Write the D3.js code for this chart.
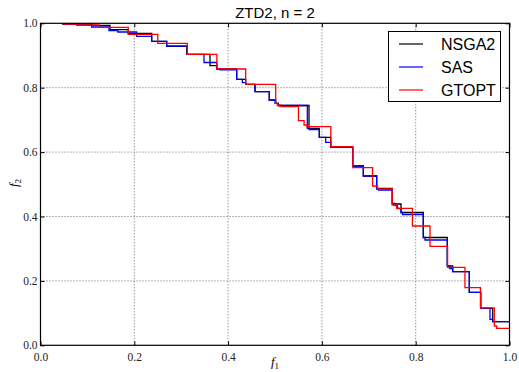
<!DOCTYPE html>
<html><head><meta charset="utf-8">
<script src="https://cdn.jsdelivr.net/npm/d3@7"></script>
<style>body{margin:0;background:#fff}svg{display:block}</style>
</head><body>
<script>
const title = "ZTD2, n = 2";
const xTicks = [0, 0.2, 0.4, 0.6, 0.8, 1.0];
const yTicks = [0, 0.2, 0.4, 0.6, 0.8, 1.0];
const seriesNames = ["NSGA2", "SAS", "GTOPT"];
const seriesColors = ["#000000", "#0000ff", "#ff0000"];

const nsga2X = [0.0458,0.1092,0.1482,0.1872,0.2371,0.2691,0.3117,0.3614,0.3757,0.4183,0.4375,0.4574,0.4878,0.5015,0.507,0.5725,0.5945,0.6188,0.6657,0.6883,0.7168,0.750,0.7687,0.8162,0.8674,0.8789,0.9143,0.9386,0.9642,1.0];
const nsga2Y = [0.9975,0.9938,0.9801,0.9683,0.9441,0.9286,0.9037,0.8683,0.8581,0.8261,0.8106,0.7876,0.7618,0.7516,0.7447,0.6739,0.646,0.6149,0.5568,0.5258,0.487,0.4388,0.4124,0.3348,0.2463,0.2286,0.1646,0.1149,0.0733,0.0733];

const sasX = [0.0544,0.077,0.109,0.146,0.165,0.205,0.237,0.269,0.313,0.3486,0.376,0.3827,0.4183,0.4303,0.4375,0.4574,0.4878,0.5,0.507,0.5689,0.5731,0.5945,0.6081,0.6188,0.6657,0.6883,0.7168,0.7207,0.750,0.7559,0.7612,0.7687,0.7719,0.8162,0.8198,0.8674,0.8721,0.8789,0.9143,0.9386,0.9584,0.9642,1.0];
const sasY = [0.998,0.9947,0.9885,0.977,0.973,0.9596,0.944,0.9295,0.9037,0.8783,0.8581,0.8553,0.8261,0.8155,0.8106,0.7876,0.7618,0.7516,0.7447,0.6733,0.6702,0.646,0.6304,0.6149,0.5568,0.5258,0.4854,0.4823,0.441,0.4342,0.4248,0.4124,0.4062,0.3348,0.327,0.2463,0.2385,0.2286,0.1646,0.1149,0.0807,0.0733,0.0733];

const gtoptX = [0.050,0.077,0.125,0.187,0.250,0.313,0.376,0.4375,0.5015,0.505,0.511,0.550,0.562,0.568,0.619,0.666,0.708,0.7186,0.750,0.7595,0.793,0.8305,0.868,0.905,0.938,0.9676,0.9727,1.0];
const gtoptY = [0.9975,0.9947,0.9876,0.9658,0.9379,0.9037,0.8581,0.8106,0.7516,0.7463,0.741,0.6975,0.6842,0.6789,0.6168,0.5516,0.4947,0.4854,0.4357,0.4255,0.3705,0.3075,0.2422,0.1789,0.1165,0.0599,0.0528,0.0528];

const W = 519, H = 372;
const m = {left: 40.5, right: 509.5, top: 23.3, bottom: 345.3};
const svg = d3.select("body").append("svg").attr("width", W).attr("height", H);
const x = d3.scaleLinear().domain([0, 1]).range([m.left, m.right]);
const y = d3.scaleLinear().domain([0, 1]).range([m.bottom, m.top]);

// grid
const grid = svg.append("g").attr("stroke", "#444").attr("stroke-width", 0.8).attr("stroke-dasharray", "1,2");
xTicks.slice(1, -1).forEach(t => grid.append("line").attr("x1", x(t)).attr("x2", x(t)).attr("y1", m.top).attr("y2", m.bottom));
yTicks.slice(1, -1).forEach(t => grid.append("line").attr("y1", y(t)).attr("y2", y(t)).attr("x1", m.left).attr("x2", m.right));

// series
svg.append("clipPath").attr("id", "clip").append("rect")
  .attr("x", m.left).attr("y", m.top - 1).attr("width", m.right - m.left).attr("height", m.bottom - m.top + 1);
const seriesData = [[nsga2X, nsga2Y], [sasX, sasY], [gtoptX, gtoptY]];
const line = d3.line().x(d => x(d[0])).y(d => y(d[1])).curve(d3.curveStepAfter);
seriesData.forEach(([xs, ys], i) => {
  svg.append("path").datum(xs.map((v, j) => [v, ys[j]]))
    .attr("d", line).attr("fill", "none").attr("stroke", seriesColors[i])
    .attr("stroke-width", 1.3).attr("clip-path", "url(#clip)");
});

// axes via d3 axes (inward ticks)
const tf = d3.format(".1f");
const axB = svg.append("g").attr("transform", `translate(0,${m.bottom})`)
  .call(d3.axisBottom(x).tickValues(xTicks).tickFormat(tf).tickSizeInner(-4).tickSizeOuter(0).tickPadding(8));
const axT = svg.append("g").attr("transform", `translate(0,${m.top})`)
  .call(d3.axisTop(x).tickValues(xTicks).tickFormat("").tickSizeInner(-4).tickSizeOuter(0));
const axL = svg.append("g").attr("transform", `translate(${m.left},0)`)
  .call(d3.axisLeft(y).tickValues(yTicks).tickFormat(tf).tickSizeInner(-4).tickSizeOuter(0).tickPadding(3));
const axR = svg.append("g").attr("transform", `translate(${m.right},0)`)
  .call(d3.axisRight(y).tickValues(yTicks).tickFormat("").tickSizeInner(-4).tickSizeOuter(0));
[axB, axT, axL, axR].forEach(a => {
  a.select(".domain").remove();
  a.selectAll("line").attr("stroke", "#000");
  a.selectAll("text").attr("font-family", "'Liberation Serif', 'DejaVu Serif', serif").attr("font-size", 11.5).attr("fill", "#222");
});
axB.selectAll("text").attr("dy", "0.71em");

// frame
svg.append("rect").attr("x", m.left).attr("y", m.top).attr("width", m.right - m.left).attr("height", m.bottom - m.top)
  .attr("fill", "none").attr("stroke", "#000").attr("stroke-width", 1.2);

// title
svg.append("text").attr("x", (m.left + m.right) / 2).attr("y", 17.5).attr("text-anchor", "middle")
  .attr("font-family", "'Liberation Sans', Arial, sans-serif").attr("font-size", 15).text(title);

// axis labels
const xl = svg.append("text").attr("x", 275).attr("y", 366).attr("text-anchor", "middle")
  .attr("font-family", "'Liberation Serif', serif").attr("font-size", 13);
xl.append("tspan").attr("font-style", "italic").text("f");
xl.append("tspan").attr("font-size", 9).attr("dy", 2.5).text("1");
const yl = svg.append("text").attr("transform", "translate(18,183) rotate(-90)").attr("text-anchor", "middle")
  .attr("font-family", "'Liberation Serif', serif").attr("font-size", 13);
yl.append("tspan").attr("font-style", "italic").text("f");
yl.append("tspan").attr("font-size", 9).attr("dy", 2.5).text("2");

// legend
const lg = svg.append("g");
lg.append("rect").attr("x", 388.5).attr("y", 31.5).attr("width", 112).attr("height", 70)
  .attr("fill", "#fff").attr("stroke", "#000").attr("stroke-width", 1);
seriesNames.forEach((n, i) => {
  const yy = 44 + i * 23;
  lg.append("line").attr("x1", 399).attr("x2", 423).attr("y1", yy).attr("y2", yy)
    .attr("stroke", seriesColors[i]).attr("stroke-width", 1.2);
  lg.append("text").attr("x", 441).attr("y", yy + 5.8)
    .attr("font-family", "'Liberation Sans', Arial, sans-serif").attr("font-size", 16).text(n);
});
</script>
</body></html>
